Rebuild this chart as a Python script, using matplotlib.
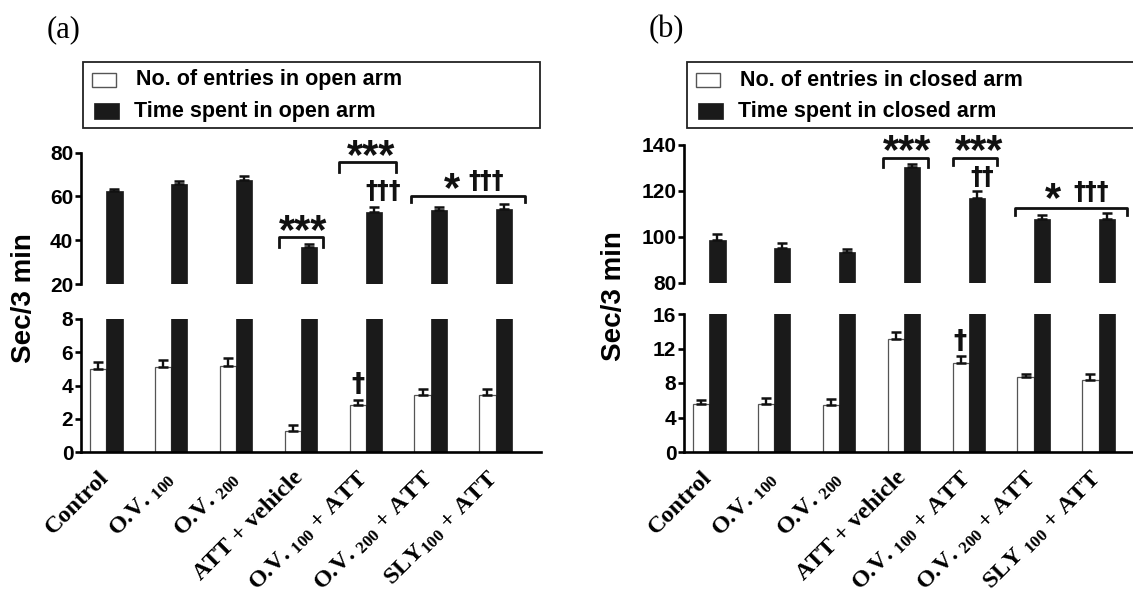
import matplotlib
matplotlib.use("Agg")
import matplotlib.pyplot as plt
from matplotlib.patches import Rectangle
from matplotlib.transforms import ScaledTranslation
import numpy as np

plt.rcParams['mathtext.fontset'] = 'custom'
plt.rcParams['mathtext.rm'] = 'Liberation Serif:bold'
plt.rcParams['mathtext.bf'] = 'Liberation Serif:bold'
plt.rcParams['mathtext.it'] = 'Liberation Serif:bold'

# ---------------- data ----------------
groups = ['Control', 'O.V. $_{100}$', 'O.V. $_{200}$', 'ATT + vehicle',
          'O.V. $_{100}$ + ATT', 'O.V. $_{200}$ + ATT', 'SLY$_{100}$ + ATT']
groups_b = ['Control', 'O.V. $_{100}$', 'O.V. $_{200}$', 'ATT + vehicle',
            'O.V. $_{100}$ + ATT', 'O.V. $_{200}$ + ATT', 'SLY $_{100}$ + ATT']

open_entries = [4.98, 5.1, 5.2, 1.27, 2.85, 3.42, 3.42]
open_entries_err = [0.43, 0.45, 0.43, 0.33, 0.29, 0.34, 0.34]
open_time = [62.4, 65.7, 67.5, 36.9, 52.8, 53.9, 54.2]
open_time_err = [1.0, 1.5, 1.6, 1.2, 2.3, 1.2, 2.1]

closed_entries = [5.58, 5.58, 5.47, 13.1, 10.3, 8.68, 8.37]
closed_entries_err = [0.42, 0.66, 0.65, 0.78, 0.86, 0.39, 0.70]
closed_time = [98.5, 95.2, 93.3, 130.6, 116.9, 107.9, 107.9]
closed_time_err = [2.8, 2.0, 1.5, 1.0, 3.3, 1.6, 2.5]

upper_ticks_a = [20, 40, 60, 80]
lower_ticks_a = [0, 2, 4, 6, 8]
upper_ticks_b = [80, 100, 120, 140]
lower_ticks_b = [0, 4, 8, 12, 16]

legend_a = ['No. of entries in open arm', 'Time spent in open arm']
legend_b = ['No. of entries in closed arm', 'Time spent in closed arm']

W, H = 1133, 597
fig = plt.figure(figsize=(W / 100, H / 100), dpi=100)

SANS = 'Liberation Sans'
SERIF = 'Liberation Serif'
BLACK = '#1a1a1a'
LW = 1.9


def rect(l, t, r, b):
    return [l / W, 1 - b / H, (r - l) / W, (b - t) / H]


def style_axis(ax, ticks, ylim, bottom):
    ax.set_ylim(*ylim)
    ax.set_xlim(-0.39, 6.70)
    ax.set_yticks(ticks)
    ax.set_yticklabels([str(t) for t in ticks], fontfamily=SANS,
                       fontweight='bold', fontsize=15)
    for s in ['top', 'right']:
        ax.spines[s].set_visible(False)
    ax.spines['left'].set_linewidth(LW)
    ax.spines['bottom'].set_linewidth(LW)
    if not bottom:
        ax.spines['bottom'].set_visible(False)
    ax.tick_params(axis='y', length=4, width=LW, pad=1.5)
    ax.tick_params(axis='x', length=0)
    ax.patch.set_alpha(0)


def draw_bars(ax, entries, eerr, times, terr):
    x = np.arange(len(entries))
    w = 0.25
    ax.bar(x - w / 2, entries, w, color='white', edgecolor='#555555',
           linewidth=0.9, zorder=2)
    ax.bar(x + w / 2, times, w, color=BLACK, edgecolor=BLACK,
           linewidth=0.5, zorder=2)
    ax.errorbar(x - w / 2, entries, yerr=[np.zeros(len(x)), eerr], fmt='none',
                ecolor='#111111', elinewidth=1.7, capsize=3.6, capthick=1.8,
                zorder=3)
    ax.errorbar(x + w / 2, times, yerr=[np.zeros(len(x)), terr], fmt='none',
                ecolor='#111111', elinewidth=1.7, capsize=3.6, capthick=1.8,
                zorder=3)


def bracket(ax, x0, x1, ytop, yleg):
    ax.plot([x0, x0, x1, x1], [yleg, ytop, ytop, yleg], color='#111111',
            lw=2.0, clip_on=False, solid_joinstyle='round', zorder=4)


def stars(ax, x, y, s, size=30):
    ax.annotate(s, (x, y), xytext=(0, -0.40 * size), textcoords='offset points',
                ha='center', va='baseline', fontsize=size, fontfamily=SANS,
                fontweight='bold', color='#111111', annotation_clip=False)


def dagger(ax, x, y, s, size=17):
    ax.annotate(s, (x, y), xytext=(0, -0.30 * size), textcoords='offset points',
                ha='center', va='baseline', fontsize=size,
                fontfamily='DejaVu Sans', fontweight='bold', color='#111111',
                annotation_clip=False)


def legend(l, r, labels):
    fig.add_artist(Rectangle((l / W, 1 - 128 / H), (r - l) / W, 66 / H,
                             transform=fig.transFigure, facecolor='white',
                             edgecolor='#222222', linewidth=1.3))
    fig.add_artist(Rectangle(((l + 9) / W, 1 - 87 / H), 24 / W, 14 / H,
                             transform=fig.transFigure, facecolor='white',
                             edgecolor='#555555', linewidth=1.0))
    fig.add_artist(Rectangle(((l + 11) / W, 1 - 119 / H), 25 / W, 16 / H,
                             transform=fig.transFigure, facecolor=BLACK,
                             edgecolor=BLACK, linewidth=0.5))
    fig.text((l + 53) / W, 1 - 80 / H, labels[0], ha='left', va='center',
             fontsize=15.5, fontfamily=SANS, fontweight='bold')
    fig.text((l + 51) / W, 1 - 111 / H, labels[1], ha='left', va='center',
             fontsize=15.5, fontfamily=SANS, fontweight='bold')


def xlabels(ax, labels):
    ax.set_xticks(np.arange(len(labels)))
    ax.set_xticklabels(labels, rotation=45, ha='right', rotation_mode='anchor',
                       fontfamily=SERIF, fontweight='bold', fontsize=17.5)
    ax.tick_params(axis='x', pad=11)
    off = ScaledTranslation(-6.0 / 72, 0, fig.dpi_scale_trans)
    for lab in ax.get_xticklabels():
        lab.set_transform(lab.get_transform() + off)


# ---------------- panel (a) ----------------
axA_u = fig.add_axes(rect(81, 152.5, 541, 284))
axA_l = fig.add_axes(rect(81, 319, 541, 452))
for ax in (axA_u, axA_l):
    draw_bars(ax, open_entries, open_entries_err, open_time, open_time_err)
style_axis(axA_u, upper_ticks_a, (20, 80), False)
style_axis(axA_l, lower_ticks_a, (0, 8), True)
axA_u.set_xticks([])
xlabels(axA_l, groups)

bracket(axA_u, 2.66, 3.34, 41.4, 37.0)
stars(axA_u, 3.04, 46.4, '***')
bracket(axA_u, 3.59, 4.47, 75.5, 71.2)
stars(axA_u, 4.08, 80.4, '***')
dagger(axA_u, 4.27, 62.6, '†††')
bracket(axA_u, 4.69, 6.46, 60.3, 57.3)
stars(axA_u, 5.33, 65.6, '*')
dagger(axA_u, 5.85, 67.1, '†††')
dagger(axA_l, 3.88, 4.1, '†', size=19)

legend(83, 540, legend_a)
fig.text(24 / W, 1 - 298 / H, 'Sec/3 min', rotation=90, ha='center',
         va='center', fontsize=20, fontfamily=SANS, fontweight='bold')
fig.text(64 / W, 1 - 30 / H, '(a)', ha='center', va='center', fontsize=22,
         fontfamily=SERIF)

# ---------------- panel (b) ----------------
axB_u = fig.add_axes(rect(684, 145, 1144, 283))
axB_l = fig.add_axes(rect(684, 314, 1144, 452))
for ax in (axB_u, axB_l):
    draw_bars(ax, closed_entries, closed_entries_err, closed_time,
              closed_time_err)
style_axis(axB_u, upper_ticks_b, (80, 140), False)
style_axis(axB_l, lower_ticks_b, (0, 16), True)
axB_u.set_xticks([])
xlabels(axB_l, groups_b)

bracket(axB_u, 2.67, 3.37, 134.5, 130.6)
stars(axB_u, 3.05, 139.3, '***')
bracket(axB_u, 3.76, 4.43, 134.5, 131.5)
stars(axB_u, 4.16, 139.3, '***')
dagger(axB_u, 4.20, 126.2, '††')
bracket(axB_u, 4.71, 6.44, 112.5, 109.6)
stars(axB_u, 5.30, 118.6, '*')
dagger(axB_u, 5.88, 119.7, '†††')
dagger(axB_l, 3.87, 12.9, '†', size=19)

legend(687, 1150, legend_b)
fig.text(614 / W, 1 - 296 / H, 'Sec/3 min', rotation=90, ha='center',
         va='center', fontsize=20, fontfamily=SANS, fontweight='bold')
fig.text(666 / W, 1 - 30 / H, '(b)', ha='center', va='center', fontsize=22,
         fontfamily=SERIF)

fig.savefig('out.png', dpi=100, facecolor='white')
